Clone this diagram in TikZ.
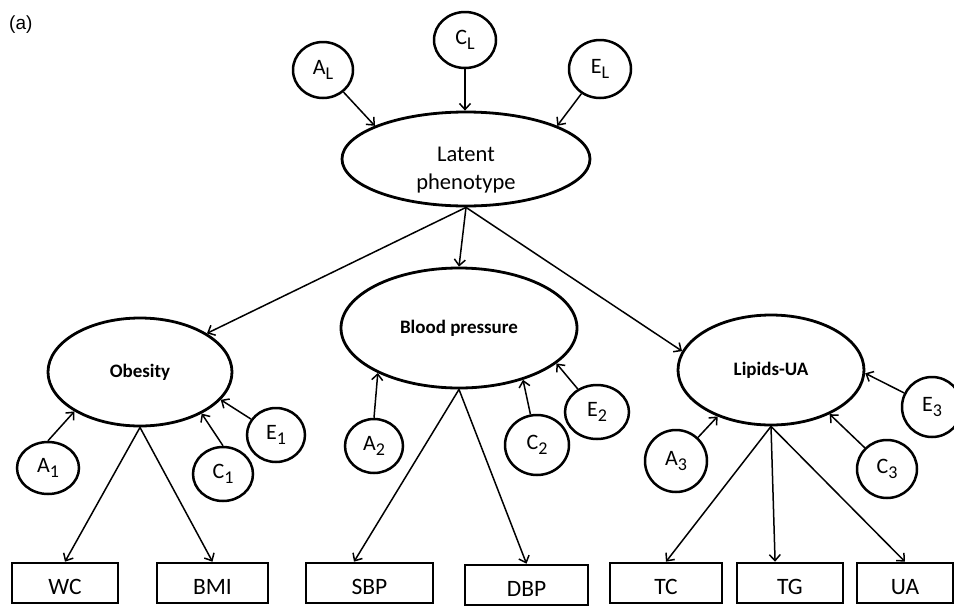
\documentclass[tikz,border=0pt]{standalone}
\usepackage{fontspec}
\setmainfont{Carlito}
\newfontfamily\arialfont{Liberation Sans}
\usetikzlibrary{shapes.geometric,arrows.meta}
% lowered, slightly reduced subscript as used in the ACE labels
\newcommand{\acesub}[1]{\raisebox{-5pt}{\fontsize{18}{20}\selectfont #1}}

\begin{document}
\begin{tikzpicture}[x=1pt,y=-1pt,
  every node/.style={inner sep=0pt},
  latent/.style={ellipse, draw, line width=2.8pt},
  factor/.style={ellipse, draw, line width=2.8pt, font=\bfseries\fontsize{19}{22}\selectfont},
  ace/.style={ellipse, draw, line width=2.5pt, font=\fontsize{22}{26}\selectfont},
  obs/.style={rectangle, draw, line width=2.6pt, minimum height=40pt,
              text height=22pt, text depth=0pt, font=\fontsize{23.5}{27}\selectfont},
  arr/.style={line width=1.5pt, -{Straight Barb[length=6pt,width=11pt]}},
]
\useasboundingbox (0,0) rectangle (954,606);

% panel tag
\node[font=\arialfont\fontsize{19}{22}\selectfont, anchor=base west] (tag) at (9,29) {(a)};

% top-level latent variable and its ACE components
\node[ace, minimum width=60pt, minimum height=56pt] (AL) at (323,70) {A\acesub{L}};
\node[ace, minimum width=62pt, minimum height=56pt] (CL) at (465,40) {C\acesub{L}};
\node[ace, minimum width=62pt, minimum height=58pt] (EL) at (600,69) {E\acesub{L}};
\node[latent, minimum width=248pt, minimum height=94pt] (Lat) at (466,159) {};
\node[align=center, font=\fontsize{22.5}{28}\selectfont] (LatText) at (466,170) {Latent\\phenotype};

% second-level factors
\node[factor, minimum width=184pt, minimum height=108pt] (Ob) at (140,372) {Obesity};
\node[factor, minimum width=236pt, minimum height=120pt] (BP) at (459,328) {Blood pressure};
\node[factor, minimum width=186pt, minimum height=110pt] (LU) at (771,370) {Lipids-UA};

% specific ACE components
\node[ace, minimum width=62pt, minimum height=52pt] (A1) at (48,468)  {A\acesub{1}};
\node[ace, minimum width=60pt, minimum height=54pt] (C1) at (223,474) {C\acesub{1}};
\node[ace, minimum width=58pt, minimum height=54pt] (E1) at (276,435) {E\acesub{1}};
\node[ace, minimum width=58pt, minimum height=54pt] (A2) at (374,446) {A\acesub{2}};
\node[ace, minimum width=64pt, minimum height=60pt] (C2) at (537,445) {C\acesub{2}};
\node[ace, minimum width=64pt, minimum height=54pt] (E2) at (597,412) {E\acesub{2}};
\node[ace, minimum width=62pt, minimum height=62pt] (A3) at (676,461) {A\acesub{3}};
\node[ace, minimum width=60pt, minimum height=58pt] (C3) at (887,469) {C\acesub{3}};
\node[ace, minimum width=60pt, minimum height=60pt] (E3) at (932,407) {E\acesub{3}};

% observed measures
\node[obs, minimum width=106pt] (WC)  at (65,583)    {WC};
\node[obs, minimum width=111pt] (BMI) at (212.5,583) {BMI};
\node[obs, minimum width=127pt] (SBP) at (369.5,583) {SBP};
\node[obs, minimum width=123pt] (DBP) at (526.5,585) {DBP};
\node[obs, minimum width=112pt] (TC)  at (666,583)   {TC};
\node[obs, minimum width=106pt] (TG)  at (790,583)   {TG};
\node[obs, minimum width=96pt]  (UA)  at (905,583)   {UA};

% paths into the latent phenotype
\draw[arr] (AL) -- (Lat.160);
\draw[arr] (CL) -- (CL |- Lat.north);
\draw[arr] (EL) -- (Lat.20);

% latent phenotype to factors
\draw[arr] (Lat.south) -- (Ob.30);
\draw[arr] (Lat.south) -- (BP.north);
\draw[arr] (Lat.south) -- (LU.168);

% specific components to factors
\draw[arr] (A1.north) -- (Ob.211);
\draw[arr] (C1.north) -- (Ob.326);
\draw[arr] (E1) -- (Ob.341);
\draw[arr] (A2.north) -- (BP.209);
\draw[arr] (C2) -- (BP.321);
\draw[arr] (E2) -- (BP.340);
\draw[arr] (A3) -- (LU.221);
\draw[arr] (C3) -- (LU.323);
\draw[arr] (E3) -- (LU.358);

% factor loadings
\draw[arr] (Ob.south) -- (WC.north);
\draw[arr] (Ob.south) -- (BMI.north);
\draw[arr] (BP.south) -- (SBP.126);
\draw[arr] (BP.south) -- (DBP.north);
\draw[arr] (LU.south) -- (TC.north);
\draw[arr] (LU.south) -- (TG.125);
\draw[arr] (LU.south) -- (UA.north);
\end{tikzpicture}
\end{document}
